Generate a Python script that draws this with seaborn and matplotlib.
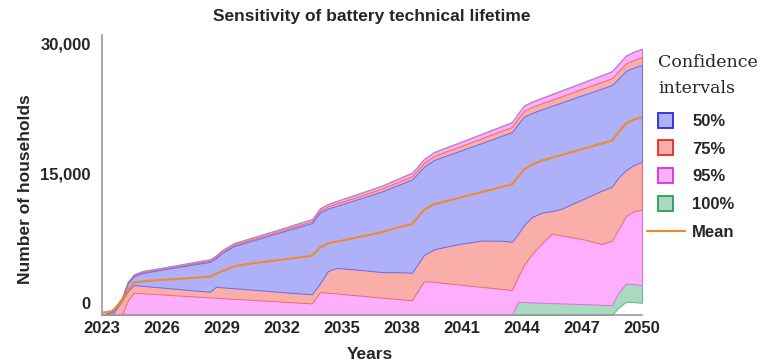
import matplotlib
matplotlib.use("Agg")
import matplotlib.pyplot as plt
import seaborn as sns
import pandas as pd
from matplotlib.patches import Patch
from matplotlib.lines import Line2D
from matplotlib.legend_handler import HandlerLine2D

# sampled years (irregular, follows the kinks of the curves)
years = [2023.0, 2023.5, 2024.0, 2024.3, 2024.6, 2025.0, 2026.0, 2027.0, 2028.0, 2028.4,
         2028.7, 2029.0, 2029.6, 2030.0, 2031.0, 2032.0, 2033.0, 2033.5, 2033.9, 2034.3,
         2034.7, 2035.0, 2036.0, 2037.0, 2038.0, 2038.5, 2039.1, 2039.6, 2040.0, 2041.0,
         2042.0, 2043.0, 2043.5, 2043.8, 2044.1, 2044.5, 2045.0, 2045.5, 2046.0, 2047.0,
         2048.0, 2048.5, 2048.8, 2049.2, 2049.6, 2050.0]

mean = [-1140, -950, 150, 1480, 2350, 2490, 2650, 2800, 2960, 3020,
        3330, 3680, 4200, 4400, 4700, 4990, 5290, 5440, 6390, 6860,
        7090, 7180, 7680, 8180, 8830, 9090, 10730, 11390, 11620, 12220,
        12810, 13400, 13700, 14540, 15410, 15990, 16440, 16770, 17100, 17760,
        18420, 18740, 19630, 20730, 21190, 21440]

# 50% interval
lo50 = [-1400, -1400, 210, 1360, 2060, 1970, 1770, 1560, 1360, 1280,
        1860, 1800, 1690, 1620, 1430, 1250, 1080, 990, 2230, 3680,
        4020, 3990, 3790, 3560, 3530, 3480, 5530, 6180, 6390, 6860,
        7200, 7180, 7060, 7950, 8990, 9920, 10420, 10610, 10900, 11940,
        12980, 13420, 14430, 15350, 15930, 16310]
hi50 = [-1400, -1060, 440, 2290, 3100, 3440, 3840, 4220, 4600, 4750,
        5180, 5760, 6570, 6840, 7530, 8210, 8890, 9220, 10440, 10900,
        11190, 11410, 12140, 12870, 13800, 14240, 15730, 16510, 16840, 17660,
        18480, 19320, 19740, 20670, 21510, 21940, 22370, 22770, 23170, 23980,
        24770, 25180, 25870, 26800, 27200, 27490]

# 75% interval
lo75 = [-1400, -1400, -1400, 320, 1170, 1110, 970, 830, 690, 640,
        600, 550, 470, 420, 280, 140, 10, -60, 1250, 1170,
        1100, 1030, 820, 610, 400, 320, 2520, 2440, 2320, 2090,
        1850, 1610, 1480, 3020, 4370, 5640, 6910, 8010, 7780, 7380,
        6800, 7200, 8420, 10030, 10610, 10730]
hi75 = [-1400, -1025, 500, 2360, 3180, 3530, 3930, 4320, 4720, 4870,
        5310, 5900, 6720, 6990, 7690, 8380, 9090, 9420, 10670, 11160,
        11460, 11690, 12440, 13210, 14170, 14620, 16170, 16970, 17320, 18170,
        19030, 19900, 20340, 21320, 22210, 22640, 23080, 23490, 23900, 24730,
        25550, 25970, 26710, 27670, 28090, 28380]

# 95% interval
lo95 = [-1400, -1400, -1400, -1400, -1400, -1400, -1400, -1400, -1400, -1400,
        -1400, -1400, -1400, -1400, -1400, -1400, -1400, -1400, -1400, -1400,
        -1400, -1400, -1400, -1400, -1400, -1400, -1400, -1400, -1400, -1400,
        -1400, -1400, -1400, 130, 90, 60, 20, -20, -60, -140,
        -220, -250, 1100, 2230, 2170, 2060]
hi95 = [-1400, -990, 560, 2430, 3260, 3620, 4020, 4420, 4840, 4990,
        5440, 6040, 6870, 7140, 7850, 8550, 9290, 9620, 10890, 11390,
        11700, 11950, 12720, 13510, 14520, 14990, 16580, 17390, 17750, 18620,
        19510, 20400, 20850, 21850, 22770, 23210, 23660, 24090, 24530, 25400,
        26280, 26740, 27520, 28540, 29000, 29310]

# 100% interval
lo100 = [-1400, -1400, -1400, -1400, -1400, -1400, -1400, -1400, -1400, -1400,
         -1400, -1400, -1400, -1400, -1400, -1400, -1400, -1400, -1400, -1400,
         -1400, -1400, -1400, -1400, -1400, -1400, -1400, -1400, -1400, -1400,
         -1400, -1400, -1400, -1400, -1400, -1400, -1400, -1400, -1400, -1400,
         -1400, -1400, -600, 130, 90, 10]
hi100 = [-1400, -950, 620, 2490, 3320, 3680, 4080, 4480, 4900, 5050,
         5500, 6100, 6930, 7200, 7910, 8610, 9350, 9680, 10950, 11450,
         11760, 12010, 12780, 13570, 14580, 15050, 16640, 17450, 17810, 18680,
         19570, 20460, 20910, 21910, 22830, 23270, 23720, 24150, 24590, 25460,
         26340, 26800, 27580, 28600, 29060, 29370]

x_ticks = [2023, 2026, 2029, 2032, 2035, 2038, 2041, 2044, 2047, 2050]
y_ticks = [0, 15000, 30000]
y_tick_labels = ["0", "15,000", "30,000"]


class WideLine(HandlerLine2D):
    # legend line for the mean is longer than the square patches
    def create_artists(self, legend, orig_handle, xdescent, ydescent,
                       width, height, fontsize, trans):
        y = (height - ydescent) / 2.0
        line = Line2D([-xdescent - 0.7 * width, -xdescent + 1.8 * width], [y, y])
        self.update_prop(line, orig_handle, legend)
        line.set_transform(trans)
        return [line]


sns.set_theme(style="white")
plt.rcParams["font.family"] = ["Liberation Sans", "DejaVu Sans"]

df = pd.DataFrame({
    "year": years, "mean": mean,
    "lo50": lo50, "hi50": hi50, "lo75": lo75, "hi75": hi75,
    "lo95": lo95, "hi95": hi95, "lo100": lo100, "hi100": hi100,
})

fig = plt.figure(figsize=(7.61, 3.64), dpi=100)
ax = fig.add_axes([0.134, 0.1346, 0.7096, 0.7692])

# (label, lower, upper, fill, line, legend edge)
bands = [
    ("100%", "lo100", "hi100", "#a9d9bf", "#5fb487", "#2e9a5e"),
    ("95%", "lo95", "hi95", "#feaefe", "#e070e0", "#e02ee0"),
    ("75%", "lo75", "hi75", "#f9aeaa", "#ee6a6a", "#e62a2a"),
    ("50%", "lo50", "hi50", "#aeb0f8", "#6a6ae6", "#2a2ae0"),
]
for label, lo, hi, fc, lc, _ in bands:
    ax.fill_between(df["year"], df[lo], df[hi], facecolor=fc,
                    edgecolor=lc, linewidth=0.7)

orange = "#ee8a2c"
sns.lineplot(data=df, x="year", y="mean", color=orange, linewidth=1.5, ax=ax)

ax.set_xlim(2023, 2050)
ax.set_ylim(-1400, 30950)
ax.set_xticks(x_ticks)
ax.set_yticks(y_ticks)
ax.set_yticklabels(y_tick_labels)
ax.tick_params(axis="both", length=0, labelsize=12)
ax.tick_params(axis="y", pad=8)
ax.tick_params(axis="x", pad=4)
for t in ax.get_xticklabels() + ax.get_yticklabels():
    t.set_fontweight("bold")

for side in ["top", "right"]:
    ax.spines[side].set_visible(False)
for side in ["left", "bottom"]:
    ax.spines[side].set_color("#9a9a9a")
    ax.spines[side].set_linewidth(1.2)

ax.set_xlabel("Years", fontsize=12.5, fontweight="bold")
ax.set_ylabel("Number of households", fontsize=12.5, fontweight="bold")
ax.xaxis.set_label_coords(0.496, -0.115)
ax.yaxis.set_label_coords(-0.128, 0.45)
ax.set_title("Sensitivity of battery technical lifetime", fontsize=12.5,
             fontweight="bold", pad=10)

handles = [Patch(facecolor=b[3], edgecolor=b[5], linewidth=1.3, label=b[0])
           for b in reversed(bands)]
mean_handle = Line2D([], [], color=orange, linewidth=1.5, label="Mean")
handles.append(mean_handle)

leg = ax.legend(handles=handles, loc="upper left",
                bbox_to_anchor=(0.8646, 0.851), bbox_transform=fig.transFigure,
                frameon=False, borderpad=0, borderaxespad=0,
                handlelength=0.9, handleheight=1.0, handletextpad=1.15,
                labelspacing=0.7, alignment="left",
                prop={"weight": "bold", "size": 12},
                title="Confidence\nintervals",
                title_fontproperties={"family": "DejaVu Serif", "size": 12.5},
                handler_map={mean_handle: WideLine()})
leg.get_title().set_linespacing(1.7)
leg._legend_box.sep = 11

fig.savefig("out.png", dpi=100)
